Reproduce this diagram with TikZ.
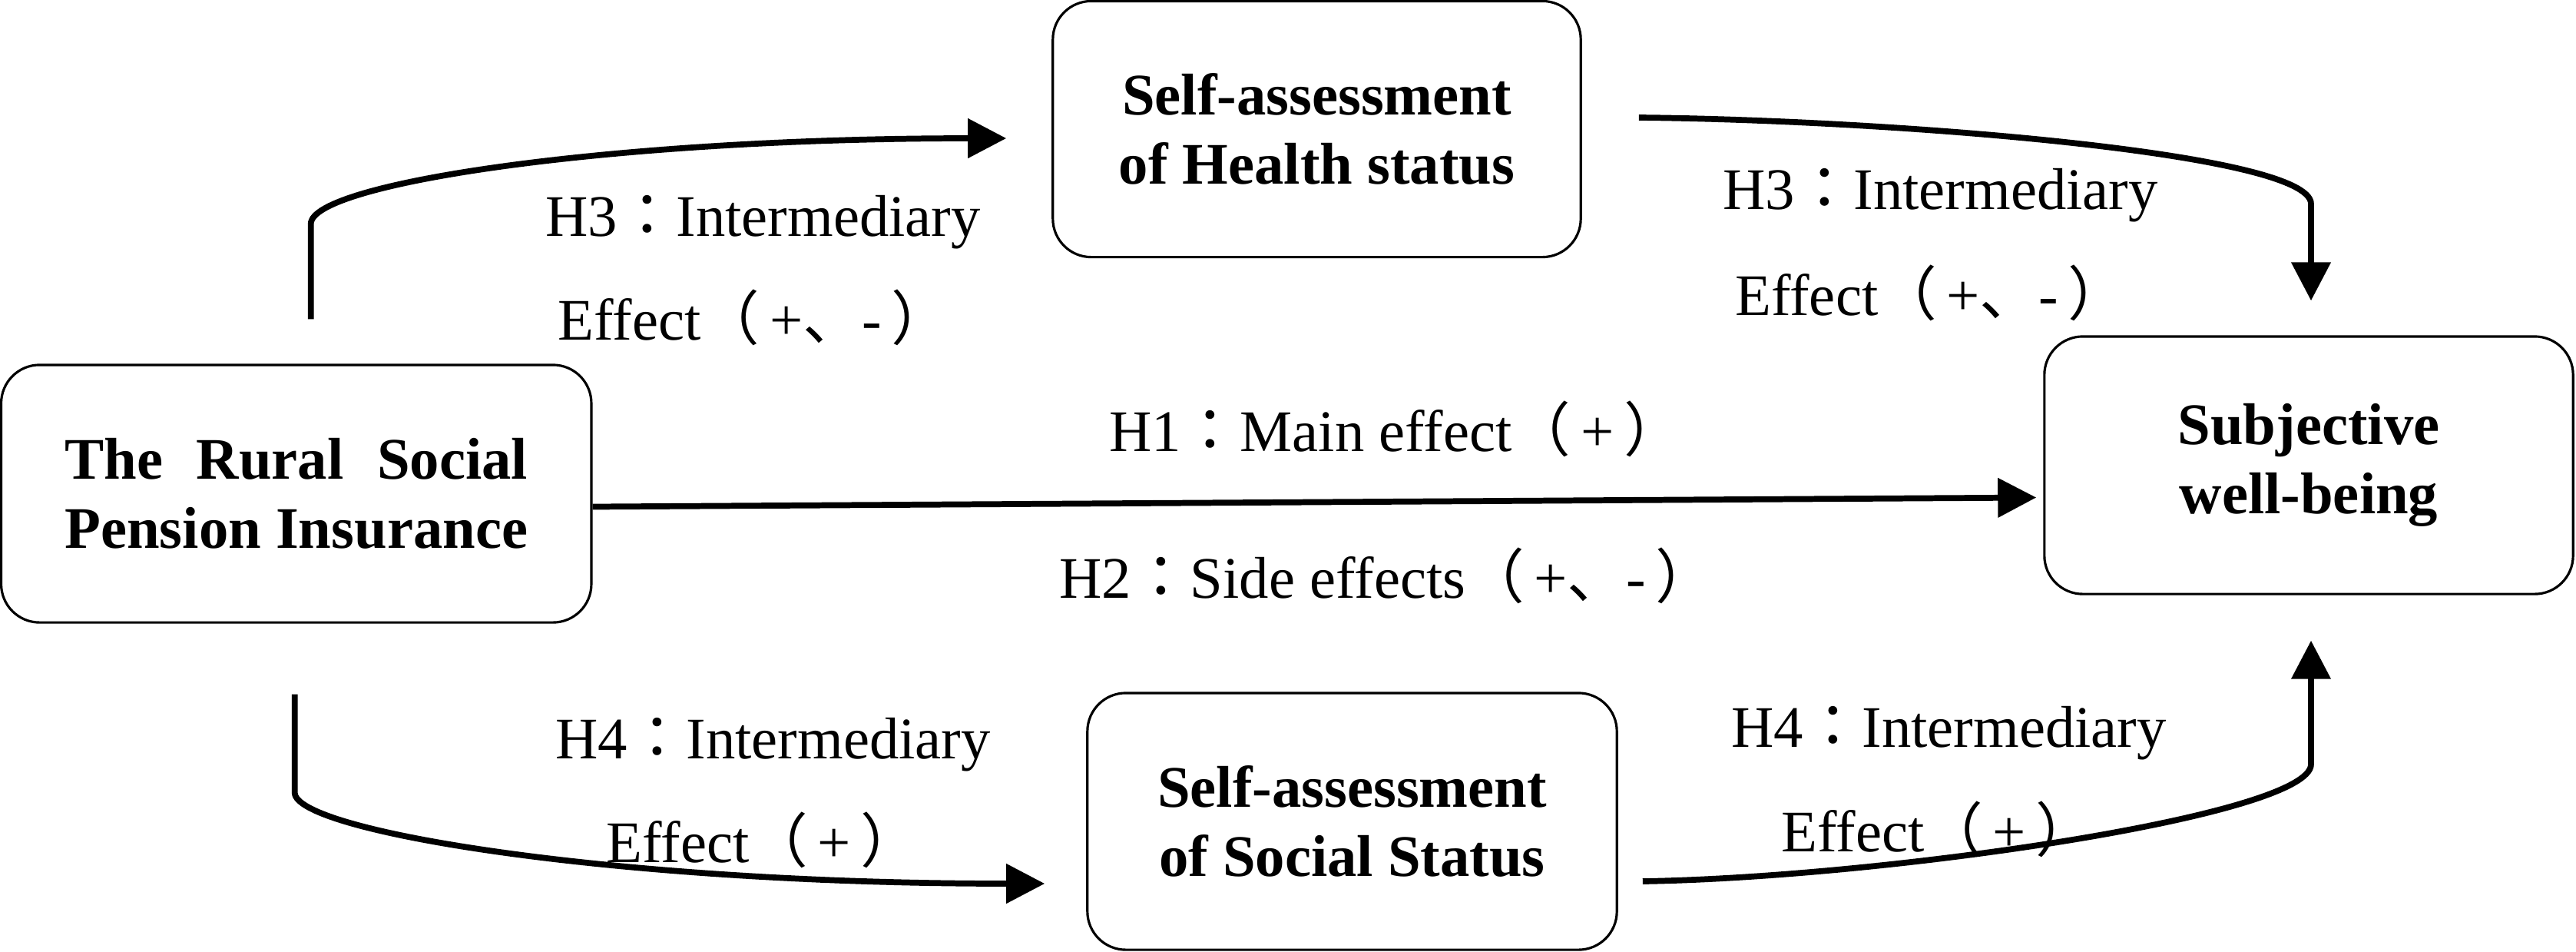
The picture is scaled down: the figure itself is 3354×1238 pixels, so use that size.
\documentclass[tikz,border=0pt]{standalone}
\usepackage{fontspec}
\setmainfont{Liberation Serif}
\newfontfamily\cjk{Noto Sans CJK JP}
\usetikzlibrary{arrows.meta}
\newcommand\fcolon{{\cjk ：}}
\newcommand\flp{{\cjk （}}
\newcommand\frp{{\cjk ）}}
\newcommand\fcomma{{\cjk 、}}
\newcommand\boxfont{\fontsize{21.8}{25.6}\selectfont\bfseries}
\newcommand\lblfont{\fontsize{21.8}{25.6}\selectfont}
\newlength\pilen
\tikzset{
  box/.style={draw, line width=0.9pt, rounded corners=0.5cm, minimum height=3.35cm,
    align=center, font=\boxfont, inner sep=0pt},
  lbl/.style={font=\lblfont, inner sep=0pt, anchor=base},
  arr/.style={line width=2.2pt, -{Triangle[length=0.5cm,width=0.5cm]}},
}
\begin{document}
\begin{tikzpicture}[x=0.01cm,y=-0.01cm]
\useasboundingbox (0,0) rectangle (3354,1238);
% boxes
\node[box, minimum width=7.68cm] (lbox) at (385.75,642.5)
  {\settowidth\pilen{Pension Insurance}\makebox[\pilen][s]{The Rural Social}\\Pension Insurance};
\node[box, minimum width=6.87cm, minimum height=3.33cm] (tbox) at (1714.5,168)
  {Self-assessment\\of Health status};
\node[box, minimum width=6.88cm] (rbox) at (3006,605.5)
  {Subjective\\well-being};
\node[box, minimum width=6.89cm, minimum height=3.34cm] (bbox) at (1760.5,1069)
  {Self-assessment\\of Social Status};
% labels
\node[lbl] (h3a) at (993.5,307) {H3\fcolon Intermediary};
\node[lbl] (e3a) at (982,442) {Effect\flp\,+\fcomma-\,\frp};
\node[lbl] (h3b) at (2526.5,272) {H3\fcolon Intermediary};
\node[lbl] (e3b) at (2514.5,410) {Effect\flp\,+\fcomma-\,\frp};
\node[lbl] (h1) at (1817.5,587) {H1\fcolon Main effect\flp\,+\,\frp};
\node[lbl] (h2) at (1806,778) {H2\fcolon Side effects\flp\,+\fcomma-\,\frp};
\node[lbl] (h4a) at (1006.5,987) {H4\fcolon Intermediary};
\node[lbl] (e4a) at (993.5,1122) {Effect\flp\,+\,\frp};
\node[lbl] (h4b) at (2537.5,972) {H4\fcolon Intermediary};
\node[lbl] (e4b) at (2523.5,1108) {Effect\flp\,+\,\frp};
% arrows
\draw[arr] ([shift={(19,-58)}]lbox.north) -- ++(0,-124)
  .. controls +(0,-53) and +(-512,0) .. ([shift={(-59,12)}]tbox.west);
\draw[arr] ([shift={(74,-15)}]tbox.east)
  .. controls +(318,3) and +(0,-67) .. ([shift={(3,-171)}]rbox.north)
  -- ([shift={(3,-45)}]rbox.north);
\draw[arr] ([shift={(0,17)}]lbox.east) -- ([shift={(-9,42)}]rbox.west);
\draw[arr] ([shift={(-2,92)}]lbox.south) -- ++(0,128)
  .. controls +(0,50) and +(-562,0) .. ([shift={(-54,81)}]bbox.west);
\draw[arr] ([shift={(32,78)}]bbox.east)
  .. controls +(313,-5) and +(0,67) .. ([shift={(3,220)}]rbox.south)
  -- ([shift={(3,59)}]rbox.south);
\end{tikzpicture}
\end{document}
